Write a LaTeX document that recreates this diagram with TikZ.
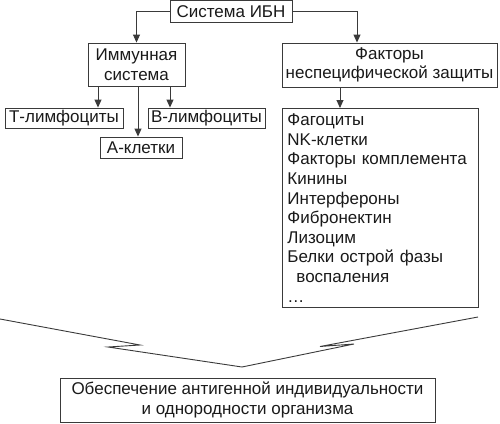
\documentclass[tikz,border=0pt]{standalone}
\usepackage{fontspec}
\setsansfont{Liberation Sans}
\usetikzlibrary{arrows.meta, positioning}
\definecolor{lineGray}{HTML}{3A3A3A}
\definecolor{textDark}{HTML}{1A1A1A}

\begin{document}
\begin{tikzpicture}[
    x=1pt, y=-1pt,
    font=\sffamily\fontsize{17}{19.6}\selectfont,
    text=textDark,
    % Box Style
    box/.style={
        rectangle,
        draw=lineGray,
        line width=0.9pt,
        fill=white,
        align=center,
        inner sep=2pt
    },
    % List Box Style
    listbox/.style={
        box,
        align=left,
        text width=186pt,
        anchor=north west,
        inner sep=5pt
    },
    % Connecting Arrows
    arrow/.style={
        draw=lineGray,
        line width=0.9pt,
        -{Triangle[length=8pt, width=7pt]}
    },
    % Big Zigzag Lines
    zigzag/.style={
        draw=lineGray,
        line width=0.9pt,
        line join=miter
    }
]
\useasboundingbox (0,0) rectangle (500,423);

% --- TOP NODE ---
\node[box, minimum width=122pt, minimum height=22pt] (Sys) at (231,11.5) {Система ИБН};

% --- LEFT BRANCH: IMMUNE SYSTEM ---
\node[box, minimum width=97pt, minimum height=43pt] (Immune) at (136.5,64.5) {Иммунная\\система};
\node[box, minimum width=118pt, minimum height=20pt] (TLym) at (64,118) {Т-лимфоциты};
\node[box, minimum width=117pt, minimum height=20pt] (BLym) at (206.5,118) {В-лимфоциты};
\node[box, minimum width=82pt, minimum height=21pt] (AKl) at (141,147.5) {А-клетки};

% --- RIGHT BRANCH: NONSPECIFIC FACTORS ---
\node[box, minimum width=215pt, minimum height=44pt] (Nonspec) at (389.5,65) {Факторы\\неспецифической защиты};
\node[listbox, minimum height=199pt] (List) at (282,108) {Фагоциты\\NK-клетки\\Факторы комплемента\\Кинины\\Интерфероны\\Фибронектин\\Лизоцим\\Белки острой фазы\\\hspace*{9pt}воспаления\\\ldots};

% --- BOTTOM NODE ---
\node[box, minimum width=375pt, minimum height=44pt] (Result) at (247.5,400) {Обеспечение антигенной индивидуальности\\и однородности организма};

% --- CONNECTIONS ---
\draw[arrow] (Sys.west) -| (Immune.north);
\draw[arrow] (Sys.east) -| ([xshift=-32.5pt]Nonspec.north);
\draw[arrow] ([xshift=-38.5pt]Immune.south) -- ([xshift=-38.5pt]Immune.south |- TLym.north);
\draw[arrow] ([xshift=33.5pt]Immune.south) -- ([xshift=33.5pt]Immune.south |- BLym.north);
\draw[arrow] ([xshift=1.5pt]Immune.south) -- ([xshift=1.5pt]Immune.south |- AKl.north);
\draw[arrow] ([xshift=-49.5pt]Nonspec.south) -- ([xshift=-49.5pt]Nonspec.south |- List.north);

% --- BIG ZIGZAG ARROW ---
\coordinate (ZLeft) at (0,319);
\coordinate (ZRight) at (478,317);
\coordinate (ZTip) at (242,367);
\draw[zigzag] (ZLeft) -- (140,345) -- (108,347) -- (ZTip)
    -- (354,344) -- (320,346.5) -- (ZRight);

\end{tikzpicture}
\end{document}
